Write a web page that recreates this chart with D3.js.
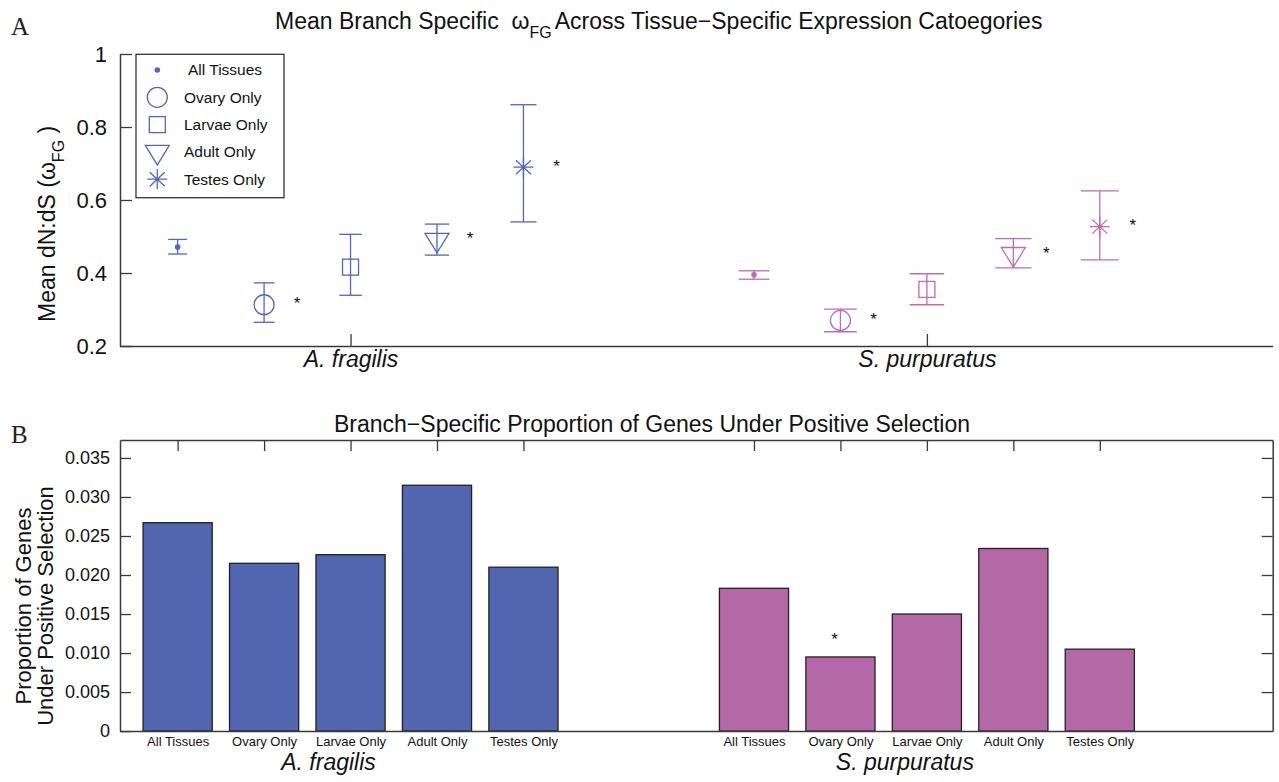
<!DOCTYPE html>
<html>
<head>
<meta charset="utf-8">
<script src="https://cdn.jsdelivr.net/npm/d3@7"></script>
<style>
    body { margin: 0; background: #fff; }
    svg { display: block; font-family: "Liberation Sans", Arial, Helvetica, sans-serif; }
    .domain { stroke: #3a3a3a; stroke-width: 1.5; }
    .tick line { stroke: #3a3a3a; stroke-width: 1.3; }
    .tick text { fill: #111; }
</style>
</head>
<body>
<div id="container"></div>
<script>
// species groups and tissue categories
var species = ["A. fragilis", "S. purpuratus"];
var speciesPos = [1, 2];
var tissues = ["All Tissues", "Ovary Only", "Larvae Only", "Adult Only", "Testes Only"];

// panel A: mean dN:dS (omega FG) with error bar ends
var afMean = [0.471, 0.313, 0.416, 0.491, 0.690];
var afLow  = [0.452, 0.265, 0.339, 0.449, 0.540];
var afHigh = [0.492, 0.373, 0.506, 0.534, 0.861];
var spMean = [0.395, 0.270, 0.355, 0.452, 0.527];
var spLow  = [0.383, 0.239, 0.313, 0.414, 0.436];
var spHigh = [0.406, 0.301, 0.398, 0.494, 0.625];
var afSigA = [false, true, false, true, true];
var spSigA = [false, true, false, true, true];

// panel B: proportion of genes under positive selection
var afProp = [0.0267, 0.0215, 0.0226, 0.0315, 0.0210];
var spProp = [0.0183, 0.0095, 0.0150, 0.0234, 0.0105];
var afSigB = [false, false, false, false, false];
var spSigB = [false, true, false, false, false];

var omegaTicks = [0.2, 0.4, 0.6, 0.8, 1];
var propTicks = [0, 0.005, 0.010, 0.015, 0.020, 0.025, 0.030, 0.035];

var markers = ["dot", "circle", "square", "triangle", "asterisk"];
var blueLine = "#5266bd", pinkLine = "#bd6bb3";
var blueBar = "#5165b0", pinkBar = "#b468a6";

var width = 1279, height = 782;
var svg = d3.select("#container").append("svg")
    .attr("width", width)
    .attr("height", height);

var xA = d3.scaleLinear().domain([0.6, 2.6]).range([120, 1272.7]);
var offset = d3.scalePoint().domain(tissues).range([-0.3, 0.3]);
var yA = d3.scaleLinear().domain([0.2, 1]).range([346, 54]);
var yB = d3.scaleLinear().domain([0, 0.0373]).range([731.1, 440]);

function drawMarker(g, type, color) {
    if (type == "dot") {
        g.append("circle").attr("r", 2.8).attr("fill", color);
    } else if (type == "circle") {
        g.append("circle").attr("r", 10).attr("fill", "none").attr("stroke", color).attr("stroke-width", 1.3);
    } else if (type == "square") {
        g.append("rect").attr("x", -8).attr("y", -8).attr("width", 16).attr("height", 16)
            .attr("fill", "none").attr("stroke", color).attr("stroke-width", 1.3);
    } else if (type == "triangle") {
        g.append("path").attr("d", "M-12,-6.5L12,-6.5L0,13Z")
            .attr("fill", "none").attr("stroke", color).attr("stroke-width", 1.3);
    } else {
        g.append("path").attr("d", "M-10,0L10,0M0,-10L0,10M-7.5,-7L7.5,7M-7.5,7L7.5,-7")
            .attr("fill", "none").attr("stroke", color).attr("stroke-width", 1.3);
        g.append("circle").attr("r", 1.5).attr("fill", color);
    }
}

// ---------- panel A ----------
var gA = svg.append("g");

svg.append("text").attr("x", 11).attr("y", 35)
    .style("font-family", "'Liberation Serif', 'Times New Roman', serif")
    .style("font-size", "25px").attr("fill", "#222").text("A");

var titleA = svg.append("text").attr("x", 275).attr("y", 29)
    .style("font-size", "23px").style("white-space", "pre").attr("fill", "#111");
titleA.append("tspan").text("Mean Branch Specific  \u03c9");
titleA.append("tspan").attr("dy", 9).style("font-size", "16px").text("FG");
titleA.append("tspan").attr("dy", -9).attr("dx", 3).text("Across Tissue\u2212Specific Expression Catoegories");

var ylabA = svg.append("text").attr("transform", "translate(55,322) rotate(-90)")
    .style("font-size", "23px").style("white-space", "pre").attr("fill", "#111");
ylabA.append("tspan").text("Mean dN:dS (\u03c9");
ylabA.append("tspan").attr("dy", 9).style("font-size", "16px").text("FG");
ylabA.append("tspan").attr("dy", -9).text(" )");

gA.append("g")
    .attr("transform", "translate(120,0)")
    .call(d3.axisLeft(yA).tickValues(omegaTicks).tickSizeInner(-12).tickSizeOuter(0).tickPadding(13)
        .tickFormat(function(d) { return d == 1 ? "1" : d.toFixed(1); }))
    .call(function(g) { g.selectAll("text").style("font-size", "22px").style("font-family", null); });

gA.append("g")
    .attr("transform", "translate(0,346)")
    .call(d3.axisBottom(xA).tickValues(speciesPos).tickSizeInner(-12).tickSizeOuter(0).tickPadding(5)
        .tickFormat(function(d) { return species[d - 1]; }))
    .call(function(g) { g.selectAll("text").style("font-size", "23px").style("font-style", "italic").style("font-family", null); });

function capW(xv) { return 10.7 + 11.9 * xv; }

var groupsA = [
    { sp: 1, mean: afMean, lo: afLow, hi: afHigh, sig: afSigA, color: blueLine },
    { sp: 2, mean: spMean, lo: spLow, hi: spHigh, sig: spSigA, color: pinkLine }
];

groupsA.forEach(function(grp) {
    tissues.forEach(function(t, i) {
        var xv = grp.sp + offset(t);
        var cx = xA(xv);
        var half = capW(xv) / 2;
        var eb = gA.append("g").attr("stroke", grp.color).attr("stroke-width", 1.3);
        eb.append("line").attr("x1", cx).attr("x2", cx).attr("y1", yA(grp.lo[i])).attr("y2", yA(grp.hi[i]));
        eb.append("line").attr("x1", cx - half).attr("x2", cx + half).attr("y1", yA(grp.lo[i])).attr("y2", yA(grp.lo[i]));
        eb.append("line").attr("x1", cx - half).attr("x2", cx + half).attr("y1", yA(grp.hi[i])).attr("y2", yA(grp.hi[i]));
        var m = gA.append("g").attr("transform", "translate(" + cx + "," + yA(grp.mean[i]) + ")");
        drawMarker(m, markers[i], grp.color);
        if (grp.sig[i]) {
            gA.append("text").attr("x", cx + 33).attr("y", yA(grp.mean[i]) + 4.7)
                .attr("text-anchor", "middle").style("font-size", "17px").attr("fill", "#111").text("*");
        }
    });
});

// legend
var leg = gA.append("g");
leg.append("rect").attr("x", 136).attr("y", 54.3).attr("width", 148).attr("height", 143.4)
    .attr("fill", "#fff").attr("stroke", "#333").attr("stroke-width", 1.3);
tissues.forEach(function(t, i) {
    var ly = 70 + i * 27.3;
    drawMarker(leg.append("g").attr("transform", "translate(157.3," + ly + ")"), markers[i], blueLine);
    leg.append("text").attr("x", i == 0 ? 188 : 184).attr("y", ly).attr("dy", "0.35em")
        .style("font-size", "15.5px").attr("fill", "#111").text(t);
});

// ---------- panel B ----------
var gB = svg.append("g");

svg.append("text").attr("x", 11).attr("y", 443)
    .style("font-family", "'Liberation Serif', 'Times New Roman', serif")
    .style("font-size", "25px").attr("fill", "#222").text("B");

svg.append("text").attr("x", 334).attr("y", 431.5)
    .style("font-size", "23px").attr("fill", "#111")
    .text("Branch\u2212Specific Proportion of Genes Under Positive Selection");

var ylabB = svg.append("text").attr("transform", "translate(0,606) rotate(-90)")
    .attr("text-anchor", "middle").style("font-size", "22px").attr("fill", "#111");
ylabB.append("tspan").attr("x", 0).attr("y", 31).text("Proportion of Genes");
ylabB.append("tspan").attr("x", 0).attr("y", 53).text("Under Positive Selection");

var barW = 0.12;
var barPos = [], barLab = {};
var groupsB = [
    { sp: 1, vals: afProp, sig: afSigB, color: blueBar },
    { sp: 2, vals: spProp, sig: spSigB, color: pinkBar }
];

groupsB.forEach(function(grp) {
    var rows = tissues.map(function(t, i) {
        return { xv: grp.sp + offset(t), v: grp.vals[i], sig: grp.sig[i], t: t };
    });
    rows.forEach(function(r) { barPos.push(r.xv); barLab[r.xv.toFixed(3)] = r.t; });

    gB.selectAll(".bar" + grp.sp)
        .data(rows)
        .enter().append("rect")
        .attr("x", function(d) { return xA(d.xv - barW / 2); })
        .attr("width", function(d) { return xA(d.xv + barW / 2) - xA(d.xv - barW / 2); })
        .attr("y", function(d) { return yB(d.v); })
        .attr("height", function(d) { return yB(0) - yB(d.v); })
        .attr("fill", grp.color)
        .attr("stroke", "#222")
        .attr("stroke-width", 1.3);

    rows.filter(function(d) { return d.sig; }).forEach(function(d) {
        gB.append("text").attr("x", xA(d.xv) - 6).attr("y", yB(d.v + 0.0028) + 9.5)
            .attr("text-anchor", "middle").style("font-size", "17px").attr("fill", "#111").text("*");
    });

    gB.append("text").attr("x", xA(grp.sp) - 22).attr("y", 770)
        .attr("text-anchor", "middle").style("font-size", "23px").style("font-style", "italic")
        .attr("fill", "#111").text(species[grp.sp - 1]);
});

gB.append("g")
    .attr("transform", "translate(120,0)")
    .call(d3.axisLeft(yB).tickValues(propTicks).tickSizeInner(-11).tickSizeOuter(0).tickPadding(10)
        .tickFormat(function(d) { return d == 0 ? "0" : d.toFixed(3); }))
    .call(function(g) { g.selectAll("text").style("font-size", "18px").style("font-family", null); });

gB.append("g")
    .attr("transform", "translate(1272.7,0)")
    .call(d3.axisRight(yB).tickValues(propTicks.slice(1)).tickSizeInner(-11).tickSizeOuter(0).tickFormat(""));

gB.append("g")
    .attr("transform", "translate(0,440)")
    .call(d3.axisTop(xA).tickValues(barPos).tickSizeInner(-11).tickSizeOuter(0).tickFormat(""));

gB.append("g")
    .attr("transform", "translate(0,731.1)")
    .call(d3.axisBottom(xA).tickValues(barPos).tickSize(0).tickPadding(5.5)
        .tickFormat(function(d) { return barLab[d.toFixed(3)]; }))
    .call(function(g) { g.selectAll("text").style("font-size", "13px").style("font-family", null).attr("fill", "#222"); });
</script>
</body>
</html>
